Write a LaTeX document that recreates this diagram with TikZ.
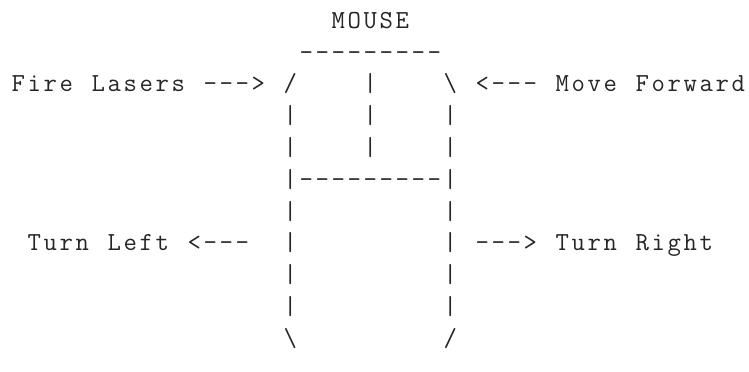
\documentclass[tikz,border=0pt]{standalone}
\usepackage{fontspec}
\usepackage{tikz}
\usetikzlibrary{positioning}

% one character per fixed cell, like a terminal
\newcommand\asciicells[1]{\asciiloop#1\relax}
\def\asciiloop#1{\ifx\relax#1\else\makebox[8pt]{#1}\expandafter\asciiloop\fi}

\tikzset{
  ascii/.style={anchor=base west, inner sep=0pt, text=black!85,
    font=\ttfamily\fontsize{13}{15}\selectfont\addfontfeatures{FakeStretch=1.15}}
}

\begin{document}
\begin{tikzpicture}[x=8pt, y=-15.9pt]
            \useasboundingbox (-5pt,14.1pt) rectangle (369.5pt,-171.4pt);

            % Title and top edge
            \node[ascii] (title) at (20,0) {\asciicells{MOUSE}};
            \node[ascii] (topedge) at (18,1) {\asciicells{---------}};

            % Buttons row
            \node[ascii] (fire) at (0,2) {\asciicells{Fire}};
            \node[ascii] (lasers) at (5,2) {\asciicells{Lasers}};
            \node[ascii] (firearrow) at (12,2) {\asciicells{--->}};
            \node[ascii] (leftcorner) at (17,2) {\asciicells{/}};
            \node[ascii] (split) at (22,2) {\asciicells{|}};
            \node[ascii] (rightcorner) at (27,2) {\asciicells{\textbackslash}};
            \node[ascii] (movearrow) at (29,2) {\asciicells{<---}};
            \node[ascii] (move) at (34,2) {\asciicells{Move}};
            \node[ascii] (forward) at (39,2) {\asciicells{Forward}};

            % Button sides
            \foreach \r in {3,4} {
              \node[ascii] (btnl\r) at (17,\r) {\asciicells{|}};
              \node[ascii] (btnm\r) at (22,\r) {\asciicells{|}};
              \node[ascii] (btnr\r) at (27,\r) {\asciicells{|}};
            }
            \node[ascii] (btnedge) at (17,5) {\asciicells{|---------|}};

            % Body
            \foreach \r in {6,8,9} {
              \node[ascii] (bodyl\r) at (17,\r) {\asciicells{|}};
              \node[ascii] (bodyr\r) at (27,\r) {\asciicells{|}};
            }
            \node[ascii] (turn) at (1,7) {\asciicells{Turn}};
            \node[ascii] (left) at (6,7) {\asciicells{Left}};
            \node[ascii] (leftarrow) at (11,7) {\asciicells{<---}};
            \node[ascii] (bodyl7) at (17,7) {\asciicells{|}};
            \node[ascii] (bodyr7) at (27,7) {\asciicells{|}};
            \node[ascii] (rightarrow) at (29,7) {\asciicells{--->}};
            \node[ascii] (turn2) at (34,7) {\asciicells{Turn}};
            \node[ascii] (right) at (39,7) {\asciicells{Right}};

            % Bottom corners
            \node[ascii] (botl) at (17,10) {\asciicells{\textbackslash}};
            \node[ascii] (botr) at (27,10) {\asciicells{/}};
        \end{tikzpicture}
\end{document}
